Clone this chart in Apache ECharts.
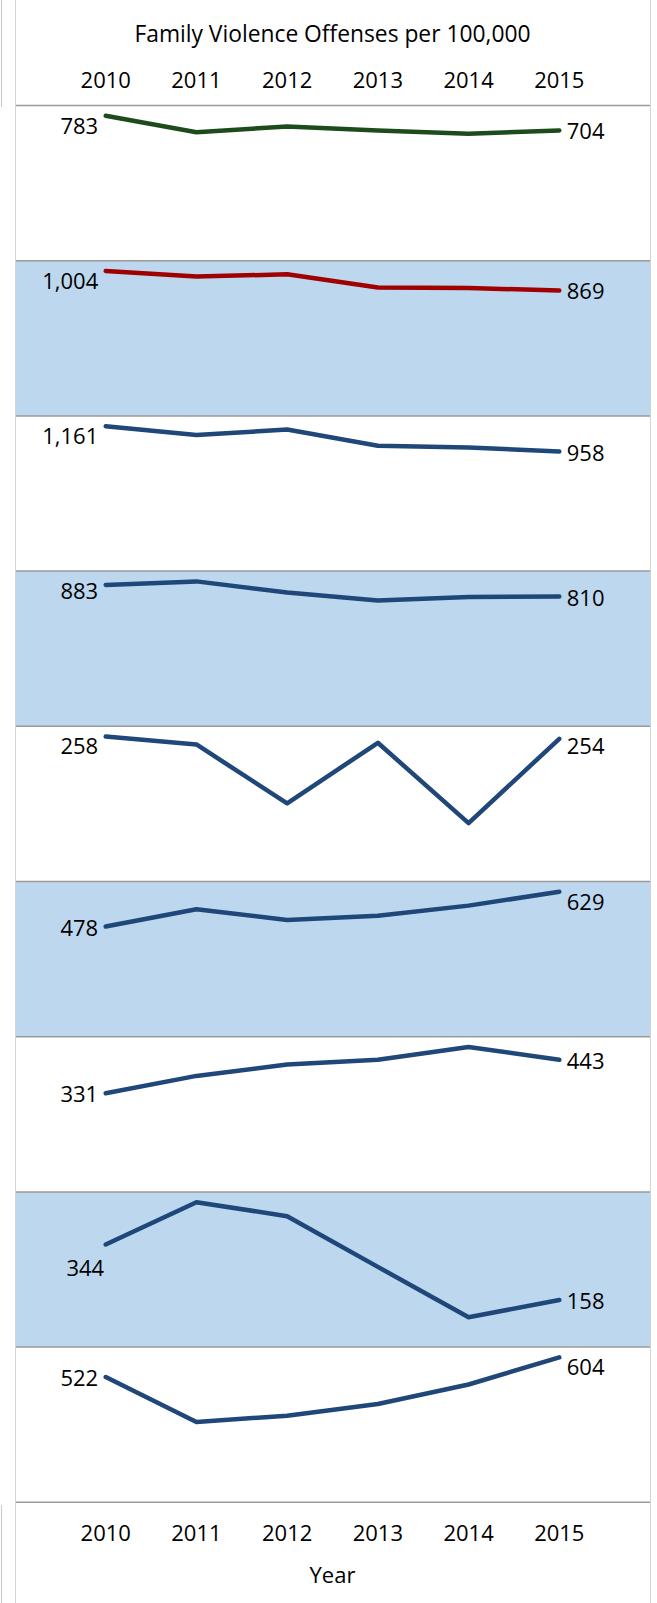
<!DOCTYPE html>
<html>
<head>
<meta charset="utf-8">
<script src="https://cdn.jsdelivr.net/npm/echarts@6/dist/echarts.min.js"></script>
<style>
  html, body { margin: 0; padding: 0; background: #fff; }
  #chart { width: 657px; height: 1603px; }
</style>
</head>
<body>
<div id="chart"></div>
<script>
// ---- data ----
const years = [2010, 2011, 2012, 2013, 2014, 2015];
const titleText = 'Family Violence Offenses per 100,000';
const xName = 'Year';
const panel1 = [783, 694, 725, 704, 686, 704];
const panel2 = [1004, 965, 981, 889, 886, 869];
const panel3 = [1161, 1091, 1134, 1004, 991, 958];
const panel4 = [883, 905, 836, 786, 808, 810];
const panel5 = [258, 244, 139, 247, 104, 254];
const panel6 = [478, 553, 507, 525, 569, 629];
const panel7 = [331, 389, 427, 443, 486, 443];
const panel8 = [344, 486, 439, 269, 100, 158];
const panel9 = [522, 335, 361, 410, 491, 604];

// ---- styling / layout ----
const panels = [panel1, panel2, panel3, panel4, panel5, panel6, panel7, panel8, panel9];
const GREEN = '#1E4B1C', RED = '#A00000', BLUE = '#1F4779';
const lineColors = [GREEN, RED, BLUE, BLUE, BLUE, BLUE, BLUE, BLUE, BLUE];
const BAND = '#BDD7EE';
const FONT = '"Open Sans", "Noto Sans", sans-serif';
const PANEL_TOP = 105.5, PANEL_H = 155.2, LEFT = 15, RIGHT = 650;
const MAX_FACTOR = 1.071;
const labelOverrides = { 7: { 0: { offset: [6, 22] } } };

const grids = [], xAxes = [], yAxes = [], series = [];
panels.forEach((vals, i) => {
  const top = PANEL_TOP + i * PANEL_H;
  grids.push({
    left: LEFT, top: top, width: RIGHT - LEFT, height: PANEL_H,
    show: true, backgroundColor: i % 2 ? BAND : '#ffffff', borderWidth: 0
  });
  const isTop = i === 0, isBottom = i === panels.length - 1;
  xAxes.push({
    type: 'value', gridIndex: i, min: 2009, max: 2016, interval: 1,
    position: isTop ? 'top' : 'bottom',
    axisLine: { show: false }, axisTick: { show: false }, splitLine: { show: false },
    axisLabel: {
      show: isTop || isBottom,
      showMinLabel: false, showMaxLabel: false,
      margin: isTop ? 16 : 19,
      fontFamily: FONT, fontSize: 22, color: '#000',
      formatter: v => (years.indexOf(v) >= 0 ? String(v) : '')
    },
    name: isBottom ? xName : '',
    nameLocation: 'middle', nameGap: 61,
    nameTextStyle: { fontFamily: FONT, fontSize: 22, color: '#000' }
  });
  const axisMax = Math.max(...vals) * MAX_FACTOR;
  yAxes.push({ type: 'value', gridIndex: i, min: 0, max: axisMax, show: false });
  const last = vals.length - 1;
  const data = vals.map((v, j) => {
    const item = { value: [years[j], v] };
    if (j === 0 || j === last) {
      const distTop = (1 - v / axisMax) * PANEL_H;
      const dy = Math.max(0, 19 - distTop);
      const lab = {
        show: true, position: j === 0 ? 'left' : 'right', distance: 7,
        offset: [0, dy]
      };
      const ov = labelOverrides[i] && labelOverrides[i][j];
      if (ov) Object.assign(lab, ov);
      item.label = lab;
    }
    return item;
  });
  series.push({
    type: 'line', xAxisIndex: i, yAxisIndex: i, data: data,
    symbol: 'circle', symbolSize: 1, showSymbol: true,
    itemStyle: { color: lineColors[i] },
    lineStyle: { color: lineColors[i], width: 4.5, cap: 'round', join: 'round' },
    label: {
      fontFamily: FONT, fontSize: 22, color: '#000',
      formatter: p => p.value[1].toLocaleString('en-US')
    },
    emphasis: { disabled: true }, silent: true
  });
});

const graphics = [];
for (let k = 0; k <= panels.length; k++) {
  const y = PANEL_TOP + k * PANEL_H;
  graphics.push({ type: 'line', z: 100, shape: { x1: LEFT, y1: y, x2: RIGHT, y2: y },
    style: { stroke: '#9a9a9a', lineWidth: 1.5 } });
}
graphics.push({ type: 'line', z: 100, shape: { x1: LEFT + 0.5, y1: 0, x2: LEFT + 0.5, y2: 1603 }, style: { stroke: '#d4d4d4', lineWidth: 1 } });
graphics.push({ type: 'line', z: 100, shape: { x1: RIGHT + 0.5, y1: 0, x2: RIGHT + 0.5, y2: 1603 }, style: { stroke: '#d4d4d4', lineWidth: 1 } });
graphics.push({ type: 'line', z: 100, shape: { x1: 1.5, y1: 0, x2: 1.5, y2: 107 }, style: { stroke: '#c8c8c8', lineWidth: 1 } });
graphics.push({ type: 'line', z: 100, shape: { x1: 1.5, y1: 1505, x2: 1.5, y2: 1603 }, style: { stroke: '#c8c8c8', lineWidth: 1 } });
graphics.push({ type: 'text', z: 100, x: (LEFT + RIGHT) / 2, y: 33.5,
  style: { text: titleText, fontFamily: FONT, fontSize: 22.8, fill: '#000', align: 'center', verticalAlign: 'middle' } });

const chart = echarts.init(document.getElementById('chart'), null, { renderer: 'svg' });
chart.setOption({
  animation: false,
  backgroundColor: '#ffffff',
  grid: grids, xAxis: xAxes, yAxis: yAxes, series: series,
  graphic: graphics
});
</script>
</body>
</html>
